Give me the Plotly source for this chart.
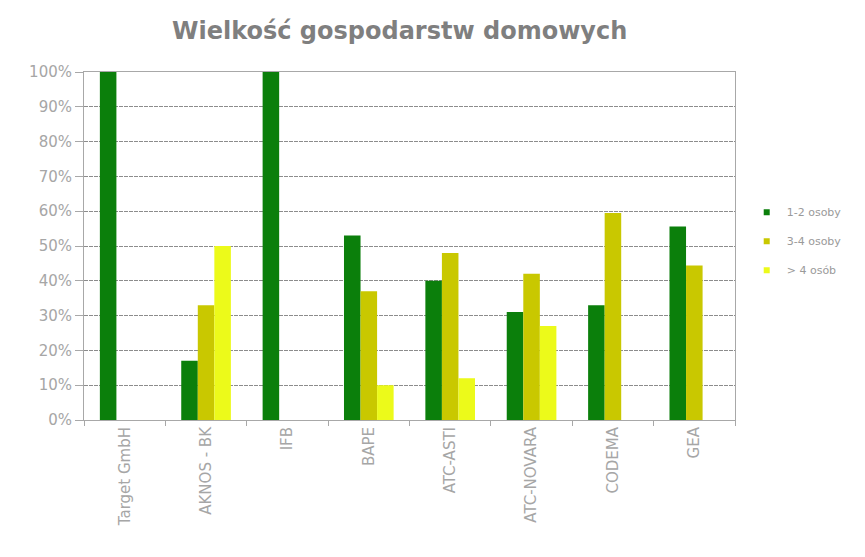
import plotly.graph_objects as go

categories = ["Target GmbH", "AKNOS - BK", "IFB", "BAPE", "ATC-ASTI", "ATC-NOVARA", "CODEMA", "GEA"]
s1_name = "1-2 osoby"
s2_name = "3-4 osoby"
s3_name = "> 4 osób"
s1 = [100, 17, 100, 53, 40, 31, 33, 55.6]
s2 = [0, 33, 0, 37, 48, 42, 59.5, 44.4]
s3 = [0, 50, 0, 10, 12, 27, 0, 0]
y_ticks = [0, 10, 20, 30, 40, 50, 60, 70, 80, 90, 100]

colors = ["#0b7f0b", "#c9c800", "#ecfa1a"]
series = [(s1_name, s1, colors[0]), (s2_name, s2, colors[1]), (s3_name, s3, colors[2])]

fig = go.Figure()
for i, (name, vals, col) in enumerate(series):
    fig.add_trace(go.Bar(x=categories, y=vals, name=name, legendgroup=f"g{i}", showlegend=False,
                         marker=dict(color=col, line=dict(width=0))))
# legend entries with small square swatches
for i, (name, vals, col) in enumerate(series):
    fig.add_trace(go.Scatter(x=[None], y=[None], mode="markers", name=name, legendgroup=f"g{i}",
                             marker=dict(symbol="square", size=6, color=col)))

fig.update_layout(
    width=865, height=557,
    margin=dict(l=84, r=130, t=72, b=137),
    paper_bgcolor="white", plot_bgcolor="white",
    barmode="group", bargap=0.39, bargroupgap=0,
    title=dict(text="<b>Wielkość gospodarstw domowych</b>", x=0.462, xanchor="center", y=0.945, yanchor="middle",
               font=dict(family="DejaVu Sans", size=24, color="#7f7f7f")),
    legend=dict(x=1.018, y=0.514, xanchor="left", yanchor="middle",
                font=dict(family="DejaVu Sans", size=11, color="#9a9a9a"),
                itemwidth=30, traceorder="grouped", tracegroupgap=10, bgcolor="rgba(0,0,0,0)"),
    showlegend=True,
    font=dict(family="DejaVu Sans", color="#a0a0a0"),
)
fig.update_yaxes(range=[0, 100], tickvals=y_ticks, ticktext=[f"{v}%" for v in y_ticks],
                 showgrid=True, gridcolor="#8c8c8c", griddash="4px,1px", gridwidth=1,
                 showline=True, linecolor="#a8a8a8", mirror=True, ticks="outside", ticklen=8, tickcolor="#a8a8a8",
                 tickfont=dict(family="DejaVu Sans", size=15, color="#a6a6a6"), zeroline=False)
fig.update_xaxes(tickangle=-90, tickson="boundaries", ticks="outside", ticklen=5, tickcolor="#a8a8a8",
                 showline=True, linecolor="#a8a8a8", mirror=True, showgrid=False,
                 tickfont=dict(family="DejaVu Sans", size=15, color="#a6a6a6"))

fig.write_html("out.html")
